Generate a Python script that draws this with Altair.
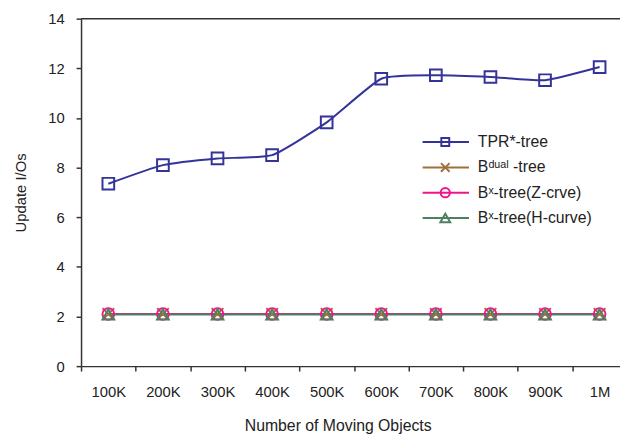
import altair as alt
import pandas as pd

categories = ["100K", "200K", "300K", "400K", "500K", "600K", "700K", "800K", "900K", "1M"]
series_names = ["TPR*-tree", "Bdual-tree", "Bx-tree(Z-crve)", "Bx-tree(H-curve)"]
legend_labels = ["TPR*-tree", "Bᵈᵘᵃˡ -tree", "Bˣ-tree(Z-crve)", "Bˣ-tree(H-curve)"]

tpr = [7.35, 8.1, 8.37, 8.5, 9.82, 11.58, 11.72, 11.65, 11.52, 12.05]
bdual = [2.1, 2.1, 2.1, 2.1, 2.1, 2.1, 2.1, 2.1, 2.1, 2.1]
bx_z = [2.1, 2.1, 2.1, 2.1, 2.1, 2.1, 2.1, 2.1, 2.1, 2.1]
bx_h = [2.08, 2.08, 2.08, 2.08, 2.08, 2.08, 2.08, 2.08, 2.08, 2.08]

colors = ["#333399", "#A0703C", "#F0148C", "#4E8060"]
shapes = ["square", "M-1,-1L1,1M-1,1L1,-1", "circle", "triangle-up"]
legend_sizes = [64, 100, 30, 100]
y_ticks = [0, 2, 4, 6, 8, 10, 12, 14]

rows = []
for name, vals in zip(series_names, [tpr, bdual, bx_z, bx_h]):
    for c, v in zip(categories, vals):
        rows.append({"category": c, "series": name, "value": v})
df = pd.DataFrame(rows)

FONT = "Liberation Sans"
FS = 15
W, H = 546, 352

color_enc = alt.Color("series:N", scale=alt.Scale(domain=series_names, range=colors), legend=None)
shape_enc = alt.Shape("series:N", scale=alt.Scale(domain=series_names, range=shapes), legend=None)

x_enc = alt.X(
    "category:N",
    sort=categories,
    scale=alt.Scale(type="band", domain=categories, range=[0, 553], paddingInner=0, paddingOuter=0),
    axis=alt.Axis(
        title="Number of Moving Objects",
        tickBand="extent",
        labelAngle=0,
        labelPadding=14,
        tickSize=5,
        titlePadding=18,
        titleX=260,
        titleFontSize=16,
    ),
)
y_enc = alt.Y(
    "value:Q",
    scale=alt.Scale(domain=[0, 14], nice=False),
    axis=alt.Axis(
        title="Update I/Os",
        values=y_ticks,
        grid=False,
        tickSize=5,
        labelPadding=12,
        titlePadding=20,
    ),
)

base = alt.Chart(df)
lines = base.mark_line(interpolate="cardinal", tension=0.5, strokeWidth=2).encode(
    x=x_enc, y=y_enc, color=color_enc, detail="series:N"
)
points = base.mark_point(filled=False, strokeWidth=2, size=140, opacity=1).encode(
    x=x_enc, y=y_enc, color=color_enc, shape=shape_enc
)
frame = alt.Chart(pd.DataFrame({"v": [14]})).mark_rule(color="#333", strokeWidth=1.5).encode(
    y=alt.Y("v:Q", scale=alt.Scale(domain=[0, 14], nice=False)),
    x=alt.value(0),
    x2=alt.value(W),
)
main = alt.layer(frame, lines, points)

leg_df = pd.DataFrame({"series": series_names, "label": legend_labels})
ly = alt.Y(
    "series:N",
    scale=alt.Scale(type="point", domain=series_names, range=[125, 202], padding=0),
    axis=None,
)
leg = alt.Chart(leg_df)
leg_rule = leg.mark_rule(strokeWidth=2).encode(
    x=alt.value(346), x2=alt.value(393), y=ly, color=color_enc
)
leg_pts = leg.mark_point(filled=False, strokeWidth=2, opacity=1).encode(
    x=alt.value(369),
    y=ly,
    color=color_enc,
    shape=shape_enc,
    size=alt.Size("series:N", scale=alt.Scale(domain=series_names, range=legend_sizes), legend=None),
)
leg_text = leg.mark_text(align="left", baseline="middle", fontSize=16, font=FONT, color="#222").encode(
    x=alt.value(402), y=ly, text="label:N"
)
legend = alt.layer(leg_rule, leg_pts, leg_text)

chart = (
    alt.layer(main, legend)
    .resolve_scale(y="independent")
    .properties(
        width=W,
        height=H,
        autosize=alt.AutoSizeParams(type="none"),
        padding={"left": 74, "top": 8, "right": 0, "bottom": 70},
        background="white",
    )
    .configure_view(stroke=None)
    .configure_axis(
        labelFont=FONT,
        titleFont=FONT,
        labelFontSize=FS,
        titleFontSize=FS,
        titleFontWeight="normal",
        labelColor="#222",
        titleColor="#222",
        domainColor="#333",
        tickColor="#333",
        domainWidth=1.5,
        tickWidth=1.5,
    )
)

chart.save("out.html", embed_options={"renderer": "svg", "actions": False})
